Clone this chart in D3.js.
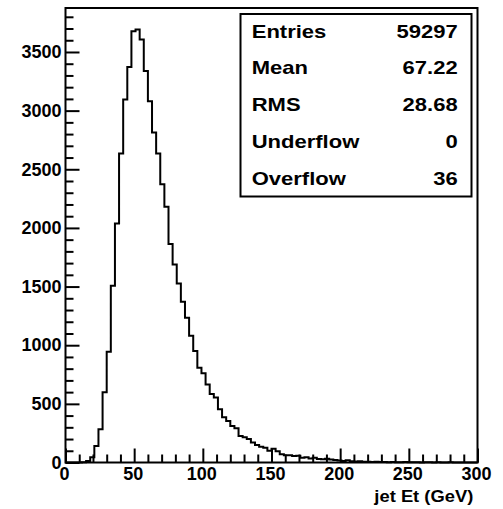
<!DOCTYPE html>
<html>
<head>
<meta charset="utf-8">
<script src="https://cdn.jsdelivr.net/npm/d3@7"></script>
<style>
  html, body { margin: 0; padding: 0; background: #fff; }
  svg { display: block; }
  text { font-family: "Liberation Sans", Arial, Helvetica, sans-serif; font-weight: bold; fill: #000; }
</style>
</head>
<body>
<svg id="chart" width="503" height="509"></svg>
<script>
// ---- data ----
const binWidth = 3;          // GeV
const xMin = 0, xMax = 300;
const counts = [
  0, 0, 0, 0, 2, 12, 45, 141, 283, 598,
  944, 1506, 2038, 2634, 3094, 3372, 3676, 3691, 3606, 3338,
  3080, 2813, 2634, 2373, 2180, 1862, 1689, 1527, 1370, 1234,
  1080, 950, 808, 760, 666, 584, 555, 453, 385, 354,
  311, 291, 226, 215, 200, 170, 150, 135, 125, 100,
  118, 95, 70, 62, 62, 55, 58, 40, 45, 35,
  40, 30, 28, 32, 25, 22, 18, 12, 20, 10,
  8, 10, 6, 7, 5, 6, 4, 5, 3, 4,
  3, 2, 4, 2, 3, 2, 1, 2, 3, 1,
  2, 1, 1, 2, 1, 0, 1, 1, 0, 1
];
const xTicksMajor = [0, 50, 100, 150, 200, 250, 300];
const yTicksMajor = [0, 500, 1000, 1500, 2000, 2500, 3000, 3500];
const statLabels = ["Entries", "Mean", "RMS", "Underflow", "Overflow"];
const statValues = ["59297", "67.22", "28.68", "0", "36"];
const xTitle = "jet Et (GeV)";
const yMax = 3875;

// ---- layout ----
const svg = d3.select("#chart");
const L = 65.5, R = 477.5, T = 8, B = 462.5;
const x = d3.scaleLinear().domain([xMin, xMax]).range([L, R]);
const y = d3.scaleLinear().domain([0, yMax]).range([B, T]);

svg.append("rect").attr("width", 503).attr("height", 509).attr("fill", "#fff");

// histogram step path
const pts = [];
pts.push([xMin, 0]);
counts.forEach((c, i) => {
  pts.push([xMin + i * binWidth, c]);
  pts.push([xMin + (i + 1) * binWidth, c]);
});
pts.push([xMax, 0]);
const line = d3.line().x(d => x(d[0])).y(d => y(d[1]));
svg.append("path")
  .attr("d", line(pts))
  .attr("fill", "none")
  .attr("stroke", "#000")
  .attr("stroke-width", 2)
  .attr("stroke-linejoin", "miter");

// minor ticks
const xMinor = d3.range(0, 301, 10).filter(v => v % 50 !== 0);
const yMinor = d3.range(0, 3801, 100).filter(v => v % 500 !== 0);

const gxMinor = svg.append("g").attr("transform", `translate(0,${B})`)
  .call(d3.axisBottom(x).tickValues(xMinor).tickSize(-8).tickFormat(""));
const gyMinor = svg.append("g").attr("transform", `translate(${L},0)`)
  .call(d3.axisLeft(y).tickValues(yMinor).tickSize(-8).tickFormat(""));

// major ticks + labels
const gx = svg.append("g").attr("transform", `translate(0,${B})`)
  .call(d3.axisBottom(x).tickValues(xTicksMajor).tickSize(-14).tickPadding(5).tickFormat(d3.format("d")));
const gy = svg.append("g").attr("transform", `translate(${L},0)`)
  .call(d3.axisLeft(y).tickValues(yTicksMajor).tickSize(-14).tickPadding(4).tickFormat(d3.format("d")));

[gxMinor, gyMinor, gx, gy].forEach(g => {
  g.select(".domain").remove();
  g.selectAll("line").attr("stroke", "#000").attr("stroke-width", 2);
  g.selectAll("text").attr("font-size", 18).attr("font-family", null).attr("fill", "#000");
});
gx.selectAll(".tick text").attr("dx", -1.5);

// frame
svg.append("rect")
  .attr("x", L).attr("y", T)
  .attr("width", R - L).attr("height", B - T)
  .attr("fill", "none").attr("stroke", "#000").attr("stroke-width", 2);

// stats box
svg.append("rect")
  .attr("x", 240.5).attr("y", 14)
  .attr("width", 231).attr("height", 182.5)
  .attr("fill", "#fff").attr("stroke", "#000").attr("stroke-width", 2);

const sx = 1.19, base0 = 37.5, step = 36.9;
statLabels.forEach((lab, i) => {
  svg.append("text")
    .attr("transform", `translate(251.7,${base0 + i * step}) scale(${sx},1)`)
    .attr("font-size", 18.5)
    .text(lab);
  svg.append("text")
    .attr("transform", `translate(457.7,${base0 + i * step}) scale(${sx},1)`)
    .attr("font-size", 18.5)
    .attr("text-anchor", "end")
    .text(statValues[i]);
});

// x title
svg.append("text")
  .attr("transform", `translate(473.3,501.5) scale(1.08,1)`)
  .attr("font-size", 17)
  .attr("text-anchor", "end")
  .text(xTitle);
</script>
</body>
</html>
